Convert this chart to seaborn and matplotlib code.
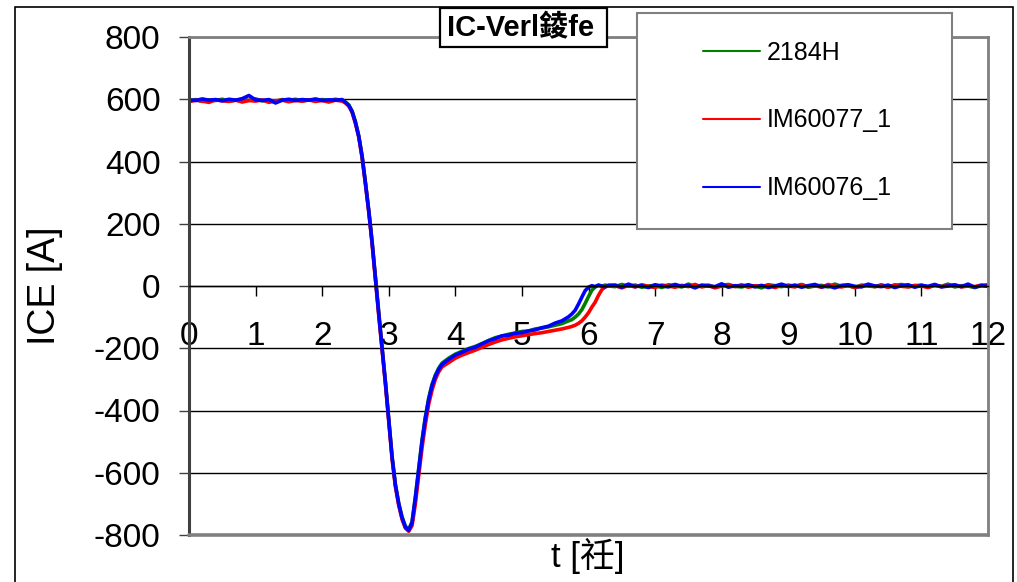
import numpy as np
import pandas as pd
import matplotlib
matplotlib.use("Agg")
import matplotlib.pyplot as plt
import seaborn as sns
from matplotlib.patches import Rectangle
from matplotlib.lines import Line2D

# ---- measured collector-emitter current traces ----
series_names = ["2184H", "IM60077_1", "IM60076_1"]
series_colors = ["#008000", "#FF0000", "#0000FF"]

# sample grid in microseconds (finer where the current switches)
t_us = np.round(np.concatenate([
    np.arange(0.0, 2.31, 0.1),
    np.arange(2.35, 3.81, 0.05),
    np.arange(3.9, 5.71, 0.1),
    np.arange(5.75, 6.31, 0.05),
    np.arange(6.4, 12.01, 0.1),
]), 2)

ice_2184h = (
    [595, 599, 593, 598, 596, 600, 594, 597, 599, 596, 601, 595, 597, 593, 599, 596,
     600, 594, 598, 595, 599, 596, 600, 596]
    + [591, 582, 562, 528, 482, 418, 332, 243, 142, 28, -88, -198, -308, -428, -548,
       -638, -698, -742, -772, -782, -758, -678, -585, -495, -420, -360, -316, -286,
       -264, -248]
    + [-232, -219, -210, -201, -194, -185, -175, -166, -161, -155, -151, -146, -145,
       -138, -135, -131, -126, -121, -112]
    + [-108, -100, -90, -76, -56, -34, -14, -3, 2, -1, 3, 0]
    + [-2, 5, -1, 3, -4, 0, 2, -5, 4, 1, -3, 6, -2, 0, 3, -4, 1, 5, -1, -3, 2, 0, -6,
       4, 1, -2, 3, -1, 5, -4, 0, 2, -3, 6, -1, 1, -5, 3, 0, -2, 4, -3, 1, 5, -2, 0,
       3, -4, 2, -1, 6, -3, 1, 0, -5, 2, 4]
)

ice_im60077 = (
    [592, 597, 594, 590, 598, 595, 593, 597, 591, 596, 594, 598, 590, 595, 597, 592,
     596, 594, 598, 593, 596, 591, 597, 594]
    + [588, 578, 558, 522, 478, 412, 328, 238, 136, 20, -95, -205, -315, -435, -555,
       -645, -705, -750, -778, -788, -770, -700, -610, -520, -445, -380, -335, -300,
       -276, -260]
    + [-246, -232, -222, -214, -206, -197, -188, -180, -173, -168, -163, -160, -156,
       -153, -150, -146, -142, -138, -133]
    + [-130, -126, -120, -112, -100, -86, -68, -52, -30, -12, -3, 2]
    + [1, -6, 2, -3, 4, -1, -5, 3, 0, -4, 2, -2, 5, -3, 1, -6, 0, 3, -2, 4, -4, 1, -1,
       3, -5, 2, 0, -3, 4, -2, 1, -4, 5, -1, -3, 2, -5, 0, 3, -2, 1, -4, 4, -1, -3, 2,
       0, -5, 3, -2, 1, 4, -3, 0, -2, 3, -1]
)

ice_im60076 = (
    [598, 596, 601, 597, 599, 595, 600, 597, 602, 612, 598, 596, 599, 588, 597, 600,
     596, 599, 597, 601, 596, 598, 597, 599]
    + [590, 580, 560, 525, 480, 415, 330, 240, 140, 25, -90, -200, -310, -430, -550,
       -640, -700, -745, -775, -785, -760, -680, -590, -500, -425, -365, -320, -290,
       -268, -252]
    + [-236, -222, -213, -203, -197, -186, -176, -169, -160, -158, -152, -150, -144,
       -141, -134, -129, -119, -112, -99]
    + [-90, -78, -58, -36, -15, -4, 1, -2, 3, 0, -3, 2]
    + [3, -4, 6, -2, 1, -5, 4, 0, -3, 5, -1, 2, -6, 3, 0, -2, 7, -4, 1, -1, 4, -3, 2,
       -5, 0, 6, -2, 3, -4, 1, 5, -3, 0, -6, 2, 4, -1, -3, 6, 0, -2, 3, -5, 1, 4, -4,
       2, -1, 5, -3, 0, 3, -2, 6, -4, 1, -1]
)

x_ticks = list(range(0, 13))
y_ticks = list(range(-800, 801, 200))

for name, vals in zip(series_names, [ice_2184h, ice_im60077, ice_im60076]):
    if len(vals) != len(t_us):
        raise ValueError(f"{name}: {len(vals)} values for {len(t_us)} samples")

df = pd.concat([
    pd.DataFrame({"t": t_us, "ICE": vals, "series": name})
    for name, vals in zip(series_names, [ice_2184h, ice_im60077, ice_im60076])
], ignore_index=True)

# ---- styling ----
sns.set_style("white")
plt.rcParams["font.family"] = ["Liberation Sans", "Noto Sans CJK TC", "DejaVu Sans"]
plt.rcParams["text.color"] = "black"
plt.rcParams["axes.labelcolor"] = "black"
plt.rcParams["xtick.color"] = "black"
plt.rcParams["ytick.color"] = "black"

W, H = 1017, 582
fig = plt.figure(figsize=(W / 100, H / 100), dpi=100)
fig.patch.set_facecolor("white")

# outer chart border
fig.add_artist(Rectangle((14.5 / W, -0.01), (1013 - 14.5) / W, 1 - 7 / H + 0.01,
                         transform=fig.transFigure, fill=False,
                         ec="black", lw=1.2, zorder=0.5))

left, right, top, bottom = 189, 988, 37, 535
ax = fig.add_axes([left / W, 1 - bottom / H, (right - left) / W, (bottom - top) / H])
ax.set_facecolor("white")

sns.lineplot(data=df, x="t", y="ICE", hue="series", hue_order=series_names,
             palette=dict(zip(series_names, series_colors)), estimator=None,
             sort=False, lw=2.6, legend=False, ax=ax)

ax.set_xlim(0, 12)
ax.set_ylim(-800, 800)
ax.set_xticks(x_ticks)
ax.set_xticklabels([str(v) for v in x_ticks])
ax.set_yticks(y_ticks)
ax.set_yticklabels([str(v) for v in y_ticks])

ax.yaxis.grid(True, color="black", lw=1.0)
ax.xaxis.grid(False)
ax.set_axisbelow(True)

# x axis crosses at ICE = 0
ax.spines["bottom"].set_position(("data", 0))
ax.spines["bottom"].set_color("black")
ax.spines["bottom"].set_linewidth(1.0)
ax.spines["left"].set_color("#404040")
ax.spines["left"].set_linewidth(2.2)
for s in ["top", "right"]:
    ax.spines[s].set_color("#808080")
    ax.spines[s].set_linewidth(2.0)
ax.axhline(-800, color="#808080", lw=2.6, clip_on=False, zorder=3)

ax.tick_params(axis="x", direction="out", length=7.5, width=1.0, color="black",
               labelcolor="black", pad=18, labelsize=24, bottom=True)
ax.tick_params(axis="y", direction="out", length=7.5, width=1.0, color="#404040",
               labelcolor="black", pad=13, labelsize=24, left=True)

ax.set_xlabel("t [祍]", fontsize=25, color="black")
ax.xaxis.set_label_coords(0.4994, (bottom - 556) / (bottom - top))
ax.xaxis.label.set_va("center")
ax.set_ylabel("ICE [A]", fontsize=27, color="black")
ax.yaxis.set_label_coords((45 - left) / (right - left), 0.5)
ax.yaxis.label.set_va("center")
ax.yaxis.label.set_ha("center")

# title box
fig.add_artist(Rectangle((440 / W, 1 - 47 / H), 167 / W, 39 / H,
                         transform=fig.transFigure, fc="white", ec="black",
                         lw=1.6, zorder=4))
fig.text(521 / W, 1 - 28 / H, "IC-Verl錂fe", ha="center", va="center",
         fontsize=21, fontweight="bold", color="black", zorder=5)

# legend box
fig.add_artist(Rectangle((637 / W, 1 - 229 / H), 315 / W, 216 / H,
                         transform=fig.transFigure, fc="white", ec="#808080",
                         lw=1.5, zorder=4))
handles = [Line2D([], [], color=c, lw=1.5) for c in series_colors]
leg = fig.legend(handles, series_names, loc="center",
                 bbox_to_anchor=(797 / W, 1 - 120.5 / H), bbox_transform=fig.transFigure,
                 frameon=False, fontsize=18, handlelength=2.3, handletextpad=0.25,
                 labelspacing=1.75, borderpad=0, labelcolor="black")
leg.set_zorder(6)

fig.savefig("out.png", dpi=100)
